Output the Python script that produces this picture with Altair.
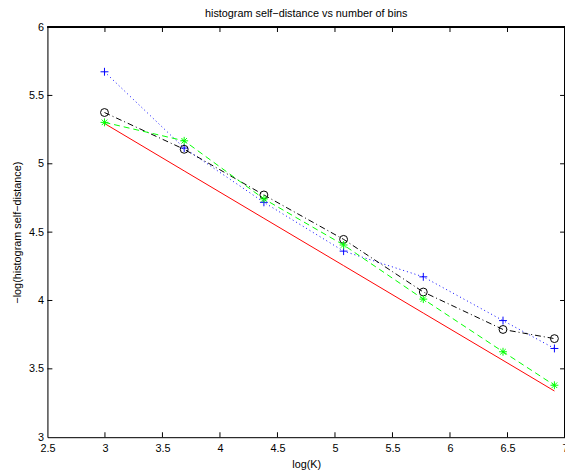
import altair as alt
import pandas as pd

# log(K) for K = 20, 40, 80, 160, 320, 640, 1000
log_k = [2.996, 3.689, 4.382, 5.075, 5.768, 6.461, 6.908]
blue_plus = [5.673, 5.115, 4.718, 4.361, 4.173, 3.853, 3.649]
black_circle = [5.375, 5.106, 4.772, 4.447, 4.062, 3.788, 3.721]
green_star = [5.303, 5.168, 4.743, 4.406, 4.010, 3.625, 3.380]
red_line = [5.295, 4.948, 4.601, 4.255, 3.908, 3.562, 3.338]

x_ticks = [2.5, 3, 3.5, 4, 4.5, 5, 5.5, 6, 6.5, 7]
y_ticks = [3, 3.5, 4, 4.5, 5, 5.5, 6]

W, H = 525, 416
FONT = "Liberation Sans"

df = pd.DataFrame({"x": log_k, "blue": blue_plus, "black": black_circle,
                   "green": green_star, "red": red_line})
xt = pd.DataFrame({"v": x_ticks[1:-1]})
yt = pd.DataFrame({"v": y_ticks[1:-1]})

xscale = alt.Scale(domain=[2.5, 7], nice=False, zero=False)
yscale = alt.Scale(domain=[3, 6], nice=False, zero=False)

common = dict(ticks=False, domain=True, domainColor="black", domainWidth=1,
              grid=False, labelFont=FONT, titleFont=FONT, labelFontSize=11,
              titleFontSize=11, titleFontWeight="normal", labelColor="black",
              titleColor="black", labelFlush=False, labelOverlap=False,
              labelExpr="datum.value + ''")
xaxis = alt.Axis(values=x_ticks, labelPadding=6, title="log(K)", titlePadding=5, **common)
yaxis = alt.Axis(values=y_ticks, labelPadding=4, title="−log(histogram self−distance)",
                 titlePadding=6, **common)

base = alt.Chart(df)

PLUS = "M-1,0L1,0M0,-1L0,1"
STAR = "M-1,0L1,0M0,-1L0,1M-0.7,-0.7L0.7,0.7M-0.7,0.7L0.7,-0.7"

red = base.mark_line(color="#ff0000", strokeWidth=1).encode(
    x=alt.X("x:Q", scale=xscale, axis=xaxis),
    y=alt.Y("red:Q", scale=yscale, axis=yaxis))

blue_l = base.mark_line(color="#0000ff", strokeWidth=1, strokeDash=[1, 3]).encode(
    x=alt.X("x:Q", scale=xscale), y=alt.Y("blue:Q", scale=yscale))
blue_p = base.mark_point(shape=PLUS, color="#0000ff", filled=False, size=64,
                         strokeWidth=1, opacity=1).encode(
    x=alt.X("x:Q", scale=xscale), y=alt.Y("blue:Q", scale=yscale))

black_l = base.mark_line(color="black", strokeWidth=1, strokeDash=[6, 3, 1, 3]).encode(
    x=alt.X("x:Q", scale=xscale), y=alt.Y("black:Q", scale=yscale))
black_p = base.mark_point(shape="circle", color="black", filled=False, size=64,
                          strokeWidth=1, opacity=1).encode(
    x=alt.X("x:Q", scale=xscale), y=alt.Y("black:Q", scale=yscale))

green_l = base.mark_line(color="#00ff00", strokeWidth=1, strokeDash=[6, 4]).encode(
    x=alt.X("x:Q", scale=xscale), y=alt.Y("green:Q", scale=yscale))
green_p = base.mark_point(shape=STAR, color="#00ff00", filled=False, size=64,
                          strokeWidth=1, opacity=1).encode(
    x=alt.X("x:Q", scale=xscale), y=alt.Y("green:Q", scale=yscale))

tick_bottom = alt.Chart(xt).mark_rule(color="black", strokeWidth=1).encode(
    x=alt.X("v:Q", scale=xscale), y=alt.value(H), y2=alt.value(H - 5))
tick_top = alt.Chart(xt).mark_rule(color="black", strokeWidth=1).encode(
    x=alt.X("v:Q", scale=xscale), y=alt.value(0), y2=alt.value(5))
tick_left = alt.Chart(yt).mark_rule(color="black", strokeWidth=1).encode(
    y=alt.Y("v:Q", scale=yscale), x=alt.value(0), x2=alt.value(5))
tick_right = alt.Chart(yt).mark_rule(color="black", strokeWidth=1).encode(
    y=alt.Y("v:Q", scale=yscale), x=alt.value(W), x2=alt.value(W - 5))
frame_top = alt.Chart(xt).mark_rule(color="black", strokeWidth=1).encode(
    x=alt.value(0), x2=alt.value(W), y=alt.value(0))
frame_right = alt.Chart(xt).mark_rule(color="black", strokeWidth=1).encode(
    x=alt.value(W), y=alt.value(0), y2=alt.value(H))

chart = alt.layer(
    red, blue_l, black_l, green_l, blue_p, black_p, green_p,
    tick_bottom, tick_top, tick_left, tick_right, frame_top, frame_right
).properties(
    width=W, height=H,
    title=alt.TitleParams("histogram self−distance vs number of bins", font=FONT,
                          fontSize=11, fontWeight="normal", color="black",
                          anchor="middle", offset=2),
    autosize=alt.AutoSizeParams(type="none"),
    padding={"left": 40, "top": 16, "right": 0, "bottom": 35},
).configure_view(
    stroke=None
).configure(background="white")

chart.save("out.html", embed_options={"renderer": "svg", "actions": False})
